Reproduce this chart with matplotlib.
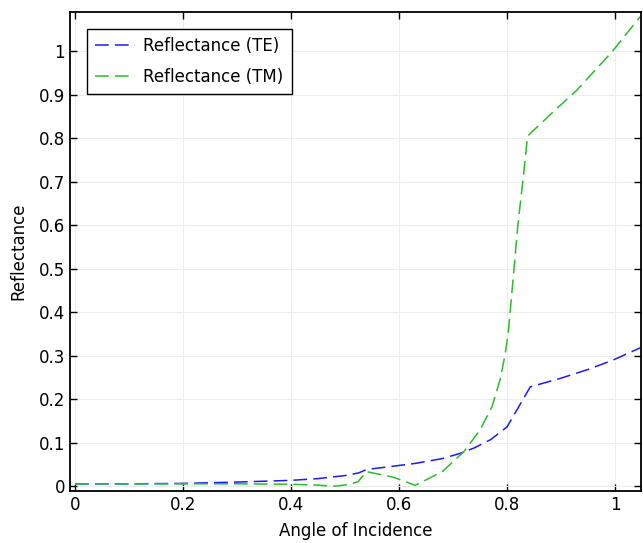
import matplotlib
matplotlib.use("Agg")
import matplotlib.pyplot as plt
import numpy as np

# angle of incidence (rad) and reflectance
angle_te = [0.0, 0.1, 0.2, 0.3, 0.4, 0.45, 0.5, 0.525, 0.54, 0.58, 0.63,
            0.68, 0.713, 0.74, 0.77, 0.80, 0.843, 0.9, 0.95, 0.997, 1.047]
refl_te = [0.005, 0.005, 0.006, 0.009, 0.013, 0.017, 0.024, 0.03, 0.038,
           0.044, 0.052, 0.063, 0.075, 0.088, 0.107, 0.136, 0.228, 0.248,
           0.268, 0.29, 0.318]

angle_tm = [0.0, 0.1, 0.2, 0.3, 0.4, 0.45, 0.47, 0.485, 0.51, 0.524, 0.54,
            0.59, 0.63, 0.68, 0.72, 0.75, 0.772, 0.787, 0.796, 0.802,
            0.81, 0.82, 0.83, 0.838, 0.892, 0.929, 0.994, 1.047]
refl_tm = [0.005, 0.005, 0.005, 0.005, 0.004, 0.002, 0.0, 0.0, 0.004,
           0.01, 0.033, 0.02, 0.0015, 0.033, 0.079, 0.129, 0.182, 0.244,
           0.30, 0.35, 0.46, 0.6, 0.71, 0.805, 0.868, 0.910, 0.998, 1.08]

fig = plt.figure(figsize=(6.43, 5.43), dpi=100)
ax = fig.add_axes([70 / 643, 52 / 543, 571 / 643, 479 / 543])

ax.plot(angle_te, refl_te, color="#1a1aff", linestyle=(0, (9, 4)),
        linewidth=1.1, label="Reflectance (TE)")
ax.plot(angle_tm, refl_tm, color="#2dbb2d", linestyle=(0, (9, 4)),
        linewidth=1.1, label="Reflectance (TM)")

ax.set_xlim(-0.0093, 1.048)
ax.set_ylim(-0.0115, 1.09)
ax.set_xticks(np.arange(0, 1.01, 0.2))
ax.set_xticklabels(["0", "0.2", "0.4", "0.6", "0.8", "1"])
ax.set_yticks(np.arange(0, 1.01, 0.1))
ax.set_yticklabels(["0"] + ["%.1f" % v for v in np.arange(0.1, 0.95, 0.1)] + ["1"])

ax.grid(True, color="#ededed", linewidth=0.8)
ax.tick_params(direction="in", top=True, right=True, length=5, width=1,
               labelsize=12)
for s in ax.spines.values():
    s.set_linewidth(1.3)

ax.set_xlabel("Angle of Incidence", fontsize=12, labelpad=6)
ax.set_ylabel("Reflectance", fontsize=12, labelpad=8)

leg = ax.legend(loc="upper left", fontsize=12, fancybox=False,
                framealpha=1, edgecolor="black", handlelength=2.4,
                handletextpad=0.5, labelspacing=0.75, borderpad=0.5,
                borderaxespad=1.0)
leg.get_frame().set_linewidth(1.0)

fig.savefig("out.png", dpi=100)
